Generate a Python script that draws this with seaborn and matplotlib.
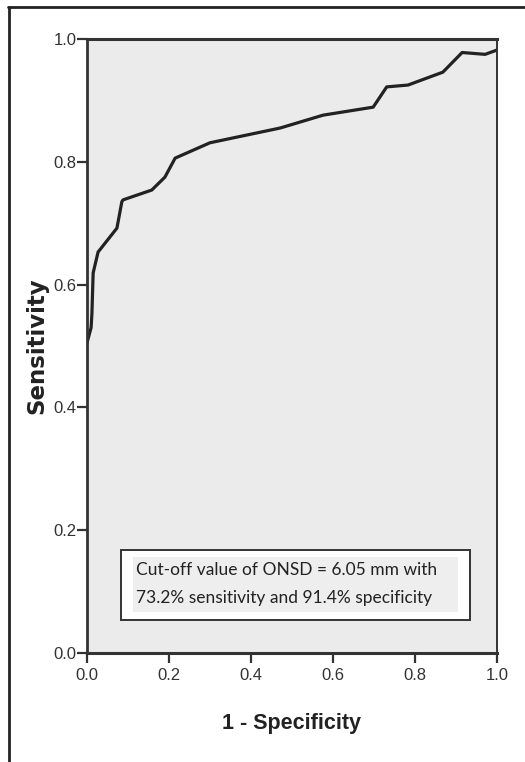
import matplotlib
matplotlib.use("Agg")
import matplotlib.pyplot as plt
import seaborn as sns
import pandas as pd
from matplotlib.patches import Rectangle
from matplotlib.lines import Line2D

# ROC curve values
fpr = [0.0, 0.010, 0.012, 0.015, 0.027, 0.073, 0.085, 0.088, 0.158, 0.190,
       0.215, 0.300, 0.471, 0.576, 0.698, 0.731, 0.783, 0.868, 0.915, 0.971, 1.0]
tpr = [0.505, 0.530, 0.553, 0.619, 0.653, 0.692, 0.735, 0.738, 0.754, 0.775,
       0.806, 0.831, 0.855, 0.876, 0.889, 0.922, 0.925, 0.946, 0.978, 0.975, 0.982]
tick_values = [0.0, 0.2, 0.4, 0.6, 0.8, 1.0]
tick_labels = ["0.0", "0.2", "0.4", "0.6", "0.8", "1.0"]
x_label = "1 - Specificity"
y_label = "Sensitivity"
note_lines = ["Cut-off value of ONSD = 6.05 mm with",
              "73.2% sensitivity and 91.4% specificity"]

df = pd.DataFrame({"fpr": fpr, "tpr": tpr})

sns.set_theme(style="white")
plt.rcParams["font.family"] = ["DejaVu Sans"]

fig = plt.figure(figsize=(5.25, 7.62), dpi=100)
ax = fig.add_axes([87 / 525, 1 - 653 / 762, 410 / 525, 614 / 762])
ax.set_facecolor("#ebebeb")

sns.lineplot(data=df, x="fpr", y="tpr", sort=False, color="#222222",
             linewidth=2.3, ax=ax)

ax.set_xlim(0, 1)
ax.set_ylim(0, 1)
ax.set_xticks(tick_values)
ax.set_yticks(tick_values)
ax.set_xticklabels(tick_labels)
ax.set_yticklabels(tick_labels)
for lab in ax.get_xticklabels() + ax.get_yticklabels():
    lab.set_family(["Liberation Sans", "DejaVu Sans"])
    lab.set_fontsize(12)
    lab.set_color("#333333")
ax.tick_params(axis="both", direction="out", length=7, width=1.6,
               color="#333333", left=True, bottom=True)
ax.tick_params(axis="x", pad=4)
ax.tick_params(axis="y", pad=0.5)

for side, lw in [("top", 2.2), ("left", 2.0), ("bottom", 2.2), ("right", 1.4)]:
    ax.spines[side].set_visible(True)
    ax.spines[side].set_color("#333333")
    ax.spines[side].set_linewidth(lw)

ax.set_xlabel(x_label, fontsize=15.5, fontweight="bold",
              family=["Liberation Sans", "DejaVu Sans"], color="#222222")
ax.set_ylabel(y_label, fontsize=16.5, fontweight="bold", color="#222222")
ax.xaxis.set_label_coords(0.5, -0.097)
ax.yaxis.set_label_coords(-0.095, 0.5)

# annotation box
ax.add_patch(Rectangle((0.083, 0.054), 0.851, 0.114, facecolor="white",
                       edgecolor="#333333", linewidth=1.4, zorder=3))
ax.add_patch(Rectangle((0.112, 0.067), 0.793, 0.089, facecolor="#eeeeee",
                       edgecolor="none", zorder=3))
ax.text(0.12, 0.135, note_lines[0], fontsize=12.5, family=["Lato", "DejaVu Sans"],
        color="#222222", va="center", ha="left", zorder=4)
ax.text(0.12, 0.090, note_lines[1], fontsize=12.5, family=["Lato", "DejaVu Sans"],
        color="#222222", va="center", ha="left", zorder=4)

# outer frame lines (left and top)
fig.add_artist(Line2D([9 / 525, 9 / 525], [0, 1 - 7 / 762],
                      transform=fig.transFigure, color="#222222", linewidth=2))
fig.add_artist(Line2D([8 / 525, 1], [1 - 7 / 762, 1 - 7 / 762],
                      transform=fig.transFigure, color="#222222", linewidth=2))

fig.savefig("out.png", dpi=100)
